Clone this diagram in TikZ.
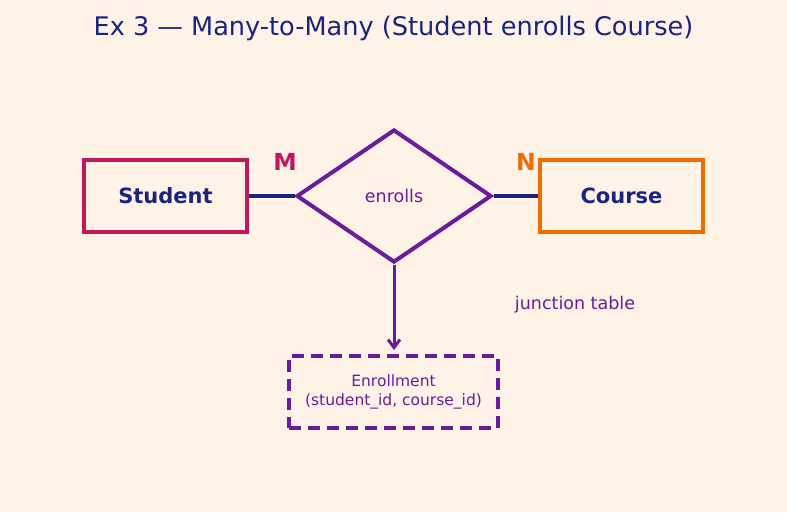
\documentclass[tikz,border=0pt]{standalone}
\usepackage{fontspec}
\setmainfont{DejaVu Sans}
\usepackage{xcolor}
\usetikzlibrary{arrows.meta,shapes.geometric}
\definecolor{bgcol}{HTML}{FFF3E8}
\definecolor{navy}{HTML}{1A237E}
\definecolor{crimson}{HTML}{C2185B}
\definecolor{orng}{HTML}{EF6C00}
\definecolor{purp}{HTML}{6A1B9A}
\begin{document}
\begin{tikzpicture}[x=1pt,y=-1pt,>=Stealth,line join=miter,
  entity/.style={draw,line width=4pt,minimum width=163pt,minimum height=72pt,inner sep=0pt,
    text=navy,font=\fontsize{21}{25}\selectfont\bfseries},
  relbox/.style={diamond,draw=purp,line width=4pt,minimum width=195pt,minimum height=133pt,
    inner sep=0pt,text=purp,font=\fontsize{17.5}{21}\selectfont},
  card/.style={font=\fontsize{23.5}{27}\selectfont\bfseries},
  link/.style={draw=navy,line width=3.2pt}]
  \fill[bgcol] (0,0) rectangle (787,512);
  \useasboundingbox (0,0) rectangle (787,512);
  \node[text=navy,font=\fontsize{25.6}{30}\selectfont] (title) at (393.5,28) {Ex 3 — Many-to-Many (Student enrolls Course)};
  \node[entity,draw=crimson] (student) at (165.5,196) {Student};
  \node[entity,draw=orng] (course) at (621.5,196) {Course};
  \node[relbox] (enrolls) at (394,196) {enrolls};
  \draw[link] (student.east) -- (enrolls.west);
  \draw[link] (enrolls.east) -- (course.west);
  \node[card,text=crimson] (m) at (285,162) {M};
  \node[card,text=orng] (n) at (526,162) {N};
  \node[draw=purp,line width=4pt,dash pattern=on 12pt off 7pt,minimum width=209pt,minimum height=72pt,
    inner sep=0pt,align=center,text=purp,font=\fontsize{15.5}{18.5}\selectfont] (enroll) at (393.5,392)
    {Enrollment\\(student\_id, course\_id)};
  \draw[purp,line width=3pt,-{Straight Barb[length=8pt,width=12pt,line width=3pt]}]
    (enrolls.south) -- ([yshift=4pt]enrolls.south |- enroll.north);
  \node[text=purp,font=\fontsize{17.5}{21}\selectfont] (junction) at (575,305) {junction table};
\end{tikzpicture}
\end{document}
